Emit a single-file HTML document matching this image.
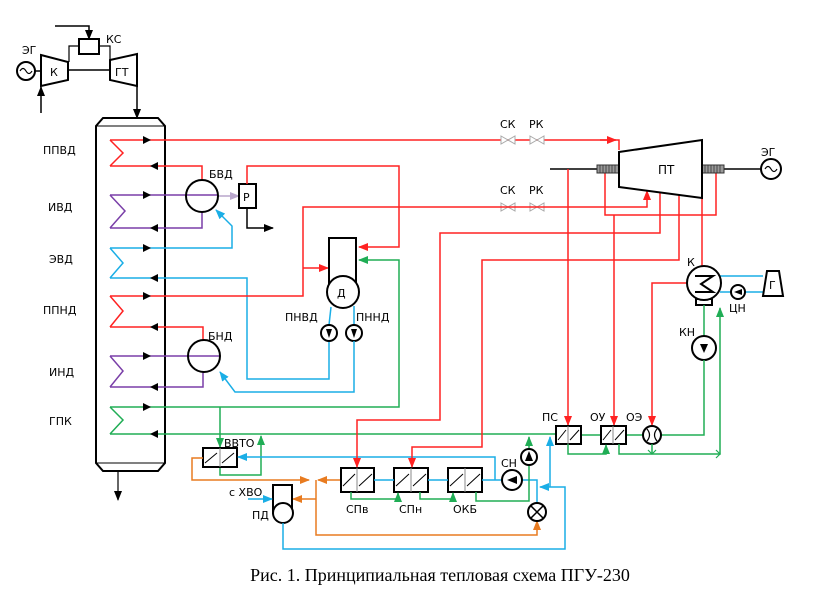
<!DOCTYPE html>
<html><head><meta charset="utf-8"><style>
html,body{margin:0;padding:0;background:#fff;}
svg{display:block;}
text{font-family:"DejaVu Sans","Liberation Sans",sans-serif;font-size:11px;fill:#000;}
.r{stroke:#f22;fill:none;stroke-width:1.5}
.p{stroke:#7a3fa8;fill:none;stroke-width:1.5}
.b{stroke:#1aaee6;fill:none;stroke-width:1.5}
.g{stroke:#20ad55;fill:none;stroke-width:1.5}
.o{stroke:#e87b20;fill:none;stroke-width:1.5}
.k{stroke:#000;fill:none;stroke-width:2}
.kw{stroke:#000;fill:#fff;stroke-width:2}
</style></head><body>
<svg width="823" height="603" viewBox="0 0 823 603" xmlns="http://www.w3.org/2000/svg">
<defs>
<marker id="ar" markerWidth="10" markerHeight="8" refX="9" refY="4" orient="auto" markerUnits="userSpaceOnUse"><path d="M0,0L10,4L0,8z" fill="#f22"/></marker>
<marker id="ab" markerWidth="10" markerHeight="8" refX="9" refY="4" orient="auto" markerUnits="userSpaceOnUse"><path d="M0,0L10,4L0,8z" fill="#1aaee6"/></marker>
<marker id="ag" markerWidth="10" markerHeight="8" refX="9" refY="4" orient="auto" markerUnits="userSpaceOnUse"><path d="M0,0L10,4L0,8z" fill="#20ad55"/></marker>
<marker id="ao" markerWidth="10" markerHeight="8" refX="9" refY="4" orient="auto" markerUnits="userSpaceOnUse"><path d="M0,0L10,4L0,8z" fill="#e87b20"/></marker>
<marker id="ak" markerWidth="10" markerHeight="8" refX="9" refY="4" orient="auto" markerUnits="userSpaceOnUse"><path d="M0,0L10,4L0,8z" fill="#000"/></marker>
<marker id="al" markerWidth="10" markerHeight="8" refX="9" refY="4" orient="auto" markerUnits="userSpaceOnUse"><path d="M0,0L10,4L0,8z" fill="#b9a6cc"/></marker>
</defs>

<!-- Gas turbine -->
<circle cx="26" cy="71" r="9" class="k"/>
<path d="M20,71 q3,-5 6,0 q3,5 6,0" stroke="#000" fill="none" stroke-width="1.2"/>
<line x1="35" y1="71" x2="41" y2="71" stroke="#000" stroke-width="1.5"/>
<polygon points="41,55 68,62 68,80 41,86" class="k"/>
<text x="50" y="76">К</text>
<polygon points="110,60 137,54 137,86 110,80" class="k"/>
<text x="115" y="76">ГТ</text>
<line x1="68" y1="70" x2="110" y2="70" stroke="#000" stroke-width="1.5"/>
<rect x="79" y="39" width="20" height="15" class="k"/>
<polyline points="69,62 69,46 79,46" stroke="#000" fill="none" stroke-width="1.2"/>
<polyline points="99,46 110,46 110,60" stroke="#000" fill="none" stroke-width="1.2"/>
<text x="106" y="43">КС</text>
<text x="22" y="54">ЭГ</text>
<polyline points="55,26 89,26 89,39" stroke="#000" fill="none" stroke-width="1.5" marker-end="url(#ak)"/>
<line x1="41" y1="113" x2="41" y2="87" stroke="#000" stroke-width="1.5" marker-end="url(#ak)"/>
<line x1="137" y1="86" x2="137" y2="118" stroke="#000" stroke-width="1.5" marker-end="url(#ak)"/>

<!-- Boiler -->
<path d="M96,463 L96,126 L103,118 L158,118 L165,126 L165,463 L158,471 L103,471 Z" class="k" fill="#fdfdfd"/>
<line x1="96" y1="126" x2="165" y2="126" stroke="#000" stroke-width="1"/>
<line x1="96" y1="463" x2="165" y2="463" stroke="#000" stroke-width="1"/>
<line x1="118" y1="471" x2="118" y2="500" stroke="#000" stroke-width="1.2" marker-end="url(#ak)"/>
<text x="43" y="154">ППВД</text>
<text x="48" y="211">ИВД</text>
<text x="49" y="263">ЭВД</text>
<text x="43" y="314">ППНД</text>
<text x="49" y="376">ИНД</text>
<text x="49" y="425">ГПК</text>

<!-- coils -->
<polyline points="110,140 123,153 110,166" class="r"/>
<polyline points="110,195 125,211 110,228" class="p"/>
<polyline points="110,248 123,263 110,278" class="b"/>
<polyline points="110,296 123,311 110,327" class="r"/>
<polyline points="110,356 123,371 110,387" class="p"/>
<polyline points="110,407 123,420 110,434" class="g"/>

<polyline points="110,140 619,140 619,150" class="r"/>
<line x1="600" y1="140" x2="616" y2="140" class="r" marker-end="url(#ar)"/>
<path d="M143,136 L151,140 L143,144z" fill="#000"/>
<polyline points="110,166 202,166 202,180" class="r"/>
<path d="M158,162 L150,166 L158,170z" fill="#000"/>
<g fill="#fff" stroke="#aaa" stroke-width="1">
<path d="M501,136 L515,144 L515,136 L501,144Z"/><path d="M530,136 L544,144 L544,136 L530,144Z"/>
<path d="M501,203 L515,211 L515,203 L501,211Z"/><path d="M530,203 L544,211 L544,203 L530,211Z"/>
</g>
<text x="500" y="128">СК</text><text x="529" y="128">РК</text>
<text x="500" y="194">СК</text><text x="529" y="194">РК</text>

<!-- БВД -->
<line x1="110" y1="195" x2="218" y2="195" class="p"/>
<path d="M143,191 L151,195 L143,199z" fill="#000"/>
<polyline points="202,212 202,228 110,228" class="p"/>
<path d="M158,224 L150,228 L158,232z" fill="#000"/>
<line x1="218" y1="196" x2="239" y2="196" stroke="#b9a6cc" stroke-width="1.5" marker-end="url(#al)"/>
<circle cx="202" cy="196" r="16" class="k"/>
<text x="209" y="178">БВД</text>
<rect x="239" y="184" width="17" height="24" class="kw"/>
<text x="243" y="201">Р</text>
<polyline points="247,208 247,228 273,228" stroke="#000" fill="none" stroke-width="1.5" marker-end="url(#ak)"/>
<polyline points="110,248 232,248 232,226 216,210" class="b" marker-end="url(#ab)"/>
<path d="M143,244 L151,248 L143,252z" fill="#000"/>
<polyline points="247,184 247,166 399,166 399,247 359,247" class="r" marker-end="url(#ar)"/>

<polyline points="110,278 247,278 247,379 329,379 329,341" class="b"/>
<path d="M158,274 L150,278 L158,282z" fill="#000"/>

<!-- ППНД -->
<polyline points="110,296 303,296 303,207 647,207 647,191" class="r" marker-end="url(#ar)"/>
<path d="M143,292 L151,296 L143,300z" fill="#000"/>
<polyline points="303,268 328,268" class="r" marker-end="url(#ar)"/>
<polyline points="110,327 203,327 203,340" class="r"/>
<path d="M158,323 L150,327 L158,331z" fill="#000"/>

<!-- Д -->
<rect x="329" y="238" width="27" height="46" class="kw"/>
<circle cx="343" cy="292" r="16" class="kw"/>
<text x="337" y="297">Д</text>
<line x1="331" y1="307" x2="329" y2="325" class="b"/>
<line x1="354" y1="306" x2="354" y2="325" class="b"/>
<circle cx="329" cy="333" r="8" class="kw"/>
<path d="M326,329 L332,329 L329,338z" fill="#000"/>
<circle cx="354" cy="333" r="8" class="kw"/>
<path d="M351,329 L357,329 L354,338z" fill="#000"/>
<text x="285" y="321">ПНВД</text>
<text x="356" y="321">ПННД</text>
<polyline points="354,341 354,392 235,392 220,372" class="b" marker-end="url(#ab)"/>

<line x1="110" y1="356" x2="220" y2="356" class="p"/>
<path d="M143,352 L151,356 L143,360z" fill="#000"/>
<polyline points="203,372 203,387 110,387" class="p"/>
<path d="M158,383 L150,387 L158,391z" fill="#000"/>
<circle cx="204" cy="356" r="16" class="k"/>
<text x="208" y="340">БНД</text>

<!-- ГПК -->
<polyline points="110,407 399,407 399,260 359,260" class="g" marker-end="url(#ag)"/>
<path d="M143,403 L151,407 L143,411z" fill="#000"/>
<line x1="220" y1="407" x2="220" y2="447" class="g" marker-end="url(#ag)"/>
<line x1="110" y1="434" x2="556" y2="434" class="g"/>
<path d="M158,430 L150,434 L158,438z" fill="#000"/>
<polyline points="220,467 220,475 261,475 261,436" class="g" marker-end="url(#ag)"/>

<!-- ВВТО -->
<rect x="203" y="448" width="34" height="19" class="kw"/>
<line x1="220" y1="448" x2="220" y2="467" stroke="#888" stroke-width="1"/>
<path d="M205,463 L217,453 M222,463 L234,453" stroke="#000" stroke-width="1"/>
<text x="224" y="447">ВВТО</text>
<polyline points="495,480 495,457 238,457" class="b" marker-end="url(#ab)"/>
<polyline points="203,458 192,458 192,480 309,480" class="o" marker-end="url(#ao)"/>
<line x1="341" y1="480" x2="318" y2="480" class="o" marker-end="url(#ao)"/>
<polyline points="316,480 316,535 537,535 537,521" class="o" marker-end="url(#ao)"/>
<line x1="316" y1="499" x2="293" y2="499" class="o" marker-end="url(#ao)"/>

<!-- ПД -->
<rect x="273" y="485" width="19" height="28" class="kw"/>
<circle cx="283" cy="513" r="10" class="kw"/>
<text x="252" y="519">ПД</text>
<text x="229" y="496">с ХВО</text>
<line x1="248" y1="499" x2="272" y2="499" class="b" marker-end="url(#ab)"/>
<polyline points="283,523 283,549 565,549 565,487 540,487" class="b" marker-end="url(#ab)"/>
<line x1="550" y1="487" x2="550" y2="437" class="b" marker-end="url(#ab)"/>

<g>
<rect x="341" y="468" width="33" height="24" class="kw"/>
<rect x="394" y="468" width="34" height="24" class="kw"/>
<rect x="448" y="468" width="34" height="24" class="kw"/>
<path d="M357,468v24 M411,468v24 M465,468v24" stroke="#888" stroke-width="1"/>
<path d="M343,486 L355,474 M359,486 L372,474 M396,486 L409,474 M413,486 L426,474 M450,486 L463,474 M467,486 L480,474" stroke="#000" stroke-width="1"/>
</g>
<line x1="374" y1="480" x2="394" y2="480" class="b"/>
<line x1="428" y1="480" x2="448" y2="480" class="b"/>
<line x1="482" y1="480" x2="502" y2="480" class="b"/>
<polyline points="522,480 537,480 537,502" class="b"/>
<circle cx="512" cy="480" r="10" class="kw"/>
<path d="M517,476 L517,484 L507,480z" fill="#000"/>
<text x="501" y="467">СН</text>
<circle cx="537" cy="512" r="9" class="kw"/>
<path d="M531,506 L543,518 M543,506 L531,518" stroke="#000" stroke-width="1.5"/>
<text x="346" y="513">СПв</text>
<text x="399" y="513">СПн</text>
<text x="453" y="513">ОКБ</text>
<polyline points="351,492 351,499 398,499 398,493" class="g" marker-end="url(#ag)"/>
<polyline points="420,492 420,499 453,499 453,493" class="g" marker-end="url(#ag)"/>
<polyline points="476,492 476,501 529,501 529,466" class="g"/>
<line x1="529" y1="449" x2="529" y2="437" class="g" marker-end="url(#ag)"/>
<circle cx="529" cy="457" r="8" class="kw"/>
<path d="M525,461 L533,461 L529,451z" fill="#000"/>

<polyline points="660,190 660,233 440,233 440,420 357,420 357,467" class="r" marker-end="url(#ar)"/>
<polyline points="679,192 679,260 482,260 482,447 412,447 412,467" class="r" marker-end="url(#ar)"/>

<!-- Turbine -->
<line x1="550" y1="169" x2="597" y2="169" stroke="#000" stroke-width="1.5"/>
<line x1="724" y1="169" x2="761" y2="169" stroke="#000" stroke-width="1.5"/>
<polyline points="568,169 568,425" class="r" marker-end="url(#ar)"/>
<polyline points="605,173 605,215 716,215 716,173" class="r"/>
<line x1="614" y1="215" x2="614" y2="425" class="r" marker-end="url(#ar)"/>
<line x1="702" y1="198" x2="702" y2="267" class="r"/>
<rect x="597" y="165" width="22" height="8" fill="#999" stroke="#333" stroke-width="1"/>
<rect x="702" y="165" width="22" height="8" fill="#999" stroke="#333" stroke-width="1"/>
<path d="M600,165v8M603,165v8M606,165v8M609,165v8M612,165v8M615,165v8M705,165v8M708,165v8M711,165v8M714,165v8M717,165v8M720,165v8" stroke="#333" stroke-width="0.8"/>
<polygon points="619,152 702,140 702,198 619,187" class="kw"/>
<text x="658" y="174" style="font-size:12px">ПТ</text>
<circle cx="771" cy="169" r="10" class="kw"/>
<path d="M765,169 q3,-5 6,0 q3,5 6,0" stroke="#000" fill="none" stroke-width="1.2"/>
<text x="761" y="156">ЭГ</text>

<!-- condenser -->
<line x1="720" y1="276" x2="763" y2="276" class="b"/>
<line x1="720" y1="292" x2="763" y2="292" class="b"/>
<polyline points="687,283 652,283 652,425" class="r" marker-end="url(#ar)"/>
<rect x="696" y="299" width="16" height="6" class="kw"/>
<circle cx="704" cy="283" r="17" class="kw"/>
<path d="M695,276 L713,276 L701,284 L713,292 L695,292" stroke="#000" fill="none" stroke-width="2"/>
<text x="687" y="266">К</text>
<circle cx="738" cy="292" r="7" class="kw"/>
<path d="M742,289 L742,295 L734,292z" fill="#000"/>
<text x="729" y="312">ЦН</text>
<polygon points="767,271 779,271 783,296 763,296" class="kw"/>
<text x="769" y="289">Г</text>
<line x1="704" y1="305" x2="704" y2="336" class="g"/>
<circle cx="704" cy="348" r="12" class="kw"/>
<path d="M700,344 L708,344 L704,353z" fill="#000"/>
<text x="679" y="336">КН</text>
<polyline points="704,360 704,435 661,435" class="g"/>
<polyline points="643,435 626,435" class="g"/>
<polyline points="601,435 581,435" class="g"/>

<rect x="556" y="426" width="25" height="18" class="kw"/>
<rect x="601" y="426" width="25" height="18" class="kw"/>
<path d="M568,426v18 M613,426v18" stroke="#888" stroke-width="1"/>
<path d="M558,440 L566,430 M570,440 L579,430 M603,440 L611,430 M615,440 L624,430" stroke="#000" stroke-width="1"/>
<circle cx="652" cy="435" r="9" class="kw"/>
<path d="M647,429 q5,6 0,12 M657,429 q-5,6 0,12" stroke="#000" fill="none" stroke-width="1.2"/>
<text x="542" y="421">ПС</text>
<text x="590" y="421">ОУ</text>
<text x="626" y="421">ОЭ</text>
<polyline points="568,444 568,454 606,454 606,445" class="g" marker-end="url(#ag)"/>
<polyline points="619,444 619,454 720,454 720,308" class="g" marker-end="url(#ag)"/>
<line x1="652" y1="444" x2="652" y2="454" class="g"/>
<path d="M648,450 L652,454 L656,450" stroke="#20ad55" fill="none" stroke-width="1.2"/>
<path d="M716,450 L720,454 L716,458" stroke="#20ad55" fill="none" stroke-width="1.2"/>

<text x="440" y="581" text-anchor="middle" style="font-family:'Liberation Serif',serif;font-size:18px">Рис. 1. Принципиальная тепловая схема ПГУ-230</text>
</svg>
</body></html>
